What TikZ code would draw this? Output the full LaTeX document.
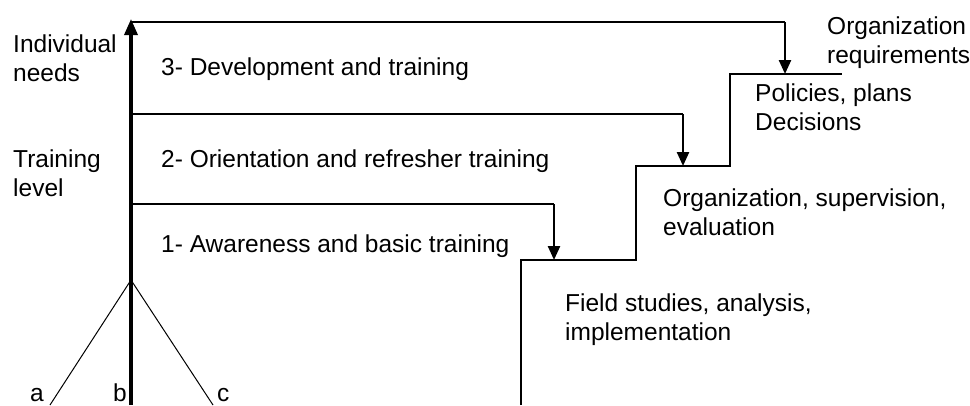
\documentclass[tikz,border=0pt]{standalone}
\usepackage{fontspec}
\setmainfont{Liberation Sans}
\usetikzlibrary{arrows.meta}
\begin{document}
\begin{tikzpicture}[x=1pt,y=-1pt,
  lbl/.style={font=\fontsize{24.5}{29}\selectfont, inner sep=0pt, anchor=base west, align=left},
  axisline/.style={line width=3.4pt, -{Triangle[length=16pt,width=13pt]}},
  lvl/.style={line width=1.6pt},
  down/.style={line width=2.4pt, -{Triangle[length=14pt,width=12pt]}},
  stair/.style={line width=1.5pt},
  branch/.style={line width=1pt}]
\useasboundingbox (0,0) rectangle (970,405);
% named points
\coordinate (base) at (131,405);
\coordinate (apex) at (131,280);
\coordinate (top) at (131,19);
\coordinate (a0) at (50,405);
\coordinate (c0) at (213,405);
\coordinate (L3) at (131,22);
\coordinate (R3) at (785,22);
\coordinate (T3) at (785,74);
\coordinate (L2) at (131,114);
\coordinate (R2) at (683,114);
\coordinate (T2) at (683,166);
\coordinate (L1) at (131,204);
\coordinate (R1) at (554,204);
\coordinate (T1) at (554,260);
\coordinate (s0) at (521,405);
\coordinate (s1) at (521,260);
\coordinate (s2) at (636,260);
\coordinate (s3) at (636,166);
\coordinate (s4) at (730,166);
\coordinate (s5) at (730,74);
\coordinate (s6) at (842,74);
% axis and branches
\draw[axisline] (base) -- (top);
\draw[branch] (a0) -- (apex) -- (c0);
% levels
\draw[lvl] (L3) -- (R3);
\draw[down] (R3) -- (T3);
\draw[lvl] (L2) -- (R2);
\draw[down] (R2) -- (T2);
\draw[lvl] (L1) -- (R1);
\draw[down] (R1) -- (T1);
% stairs
\draw[stair] (s0) -- (s1) -- (s2) -- (s3) -- (s4) -- (s5) -- (s6);
% texts (base anchor = baseline of the last line)
\node[lbl] (ind) at (13,81) {Individual\\needs};
\node[lbl] (trl) at (13,196) {Training\\level};
\node[lbl] (l3) at (161,75) {3- Development and training};
\node[lbl] (l2) at (161,167) {2- Orientation and refresher training};
\node[lbl] (l1) at (161,252) {1- Awareness and basic training};
\node[lbl] (orq) at (827,63) {Organization\\requirements};
\node[lbl] (ppd) at (755,130) {Policies, plans\\Decisions};
\node[lbl] (ose) at (663,235) {Organization, supervision,\\evaluation};
\node[lbl] (fsa) at (565,340) {Field studies, analysis,\\implementation};
\node[lbl] (la) at (30,401) {a};
\node[lbl] (lb) at (113,401) {b};
\node[lbl] (lc) at (217,401) {c};
\end{tikzpicture}
\end{document}
